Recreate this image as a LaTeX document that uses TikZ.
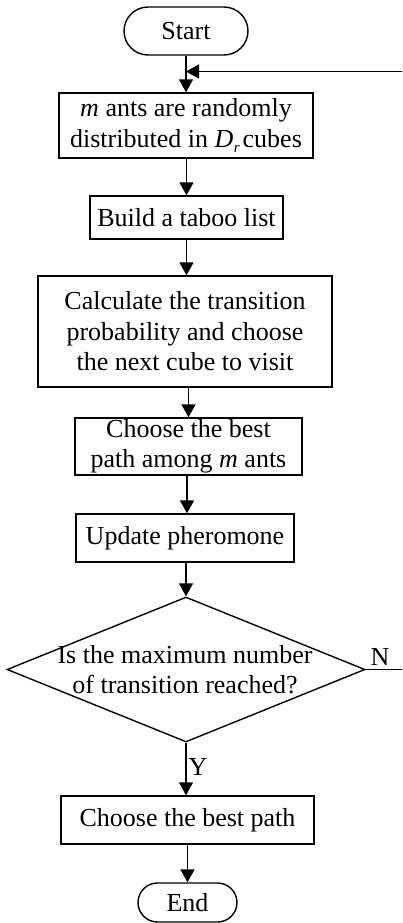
\documentclass[tikz,border=0pt]{standalone}
\usepackage{fontspec}
\setmainfont{Liberation Serif}
\usetikzlibrary{arrows.meta,shapes.geometric}

\tikzset{
  x=1pt, y=-1pt,
  every node/.style={font=\fontsize{26}{30.5}\selectfont, align=center, inner sep=0pt},
  procbox/.style={draw, line width=1.4pt, rectangle},
  termbox/.style={draw, line width=1.4pt, rectangle},
  decbox/.style={draw, line width=1.4pt, diamond},
  flow/.style={line width=1.6pt, -{Triangle[length=13pt,width=14pt]}},
  plainline/.style={line width=1.6pt},
}

\begin{document}
\begin{tikzpicture}
  \clip (0,0) rectangle (402,923);

  % terminals
  \node[termbox, minimum width=124pt, minimum height=48pt, rounded corners=24pt] (start) at (186,31) {Start};
  \node[termbox, minimum width=99pt, minimum height=39pt, rounded corners=19.5pt] (end) at (187.5,902.5) {End};

  % process steps
  \node[procbox, minimum width=254pt, minimum height=65pt] (init) at (186,125.5)
    {\textit{m} ants are randomly\\distributed in \textit{D\kern0.5pt\raisebox{-5pt}{\fontsize{15}{15}\selectfont r}}\kern3pt cubes};
  \node[procbox, minimum width=193pt, minimum height=43pt] (taboo) at (186.5,217.5) {Build a taboo list};
  \node[procbox, minimum width=294pt, minimum height=111pt] (trans) at (185,331.5)
    {Calculate the transition\\probability and choose\\the next cube to visit};
  \node[procbox, minimum width=227pt, minimum height=57pt] (bestm) at (188.5,446.5)
    {Choose the best\\path among \textit{m} ants};
  \node[procbox, minimum width=218pt, minimum height=48pt] (phero) at (185,538) {Update pheromone};

  % decision
  \node[decbox, minimum width=358pt, minimum height=145pt] (dec) at (186,669.5) {};
  \node at (185,669.5) {Is the maximum number\\of transition reached?};

  \node[procbox, minimum width=253pt, minimum height=48pt] (best) at (187.5,820) {Choose the best path};

  % main flow, each arrow drops straight down from the node above
  \coordinate (merge) at (start.south |- 0,71.5);
  \draw[flow] (start.south) -- (start.south |- init.north);
  \draw[flow] (init.south -| taboo.north) -- (taboo.north);
  \draw[flow] (taboo.south) -- (taboo.south |- trans.north);
  \draw[flow] (trans.south -| bestm.north) -- (bestm.north);
  \draw[flow] (bestm.south -| 187,0) -- (phero.north -| 187,0);
  \draw[flow] (phero.south -| dec.north) -- (dec.north);
  \draw[flow] (dec.south) -- (dec.south |- best.north);
  \draw[flow] (best.south -| end.north) -- (end.north);

  % loop back on N
  \coordinate (loopR) at (430,71.5);
  \draw[plainline] (dec.east) -| (loopR);
  \draw[flow] (loopR) -- (merge);

  % branch labels
  \node (nlab) at (380,657) {N};
  \node (ylab) at (198,767) {Y};
\end{tikzpicture}
\end{document}
